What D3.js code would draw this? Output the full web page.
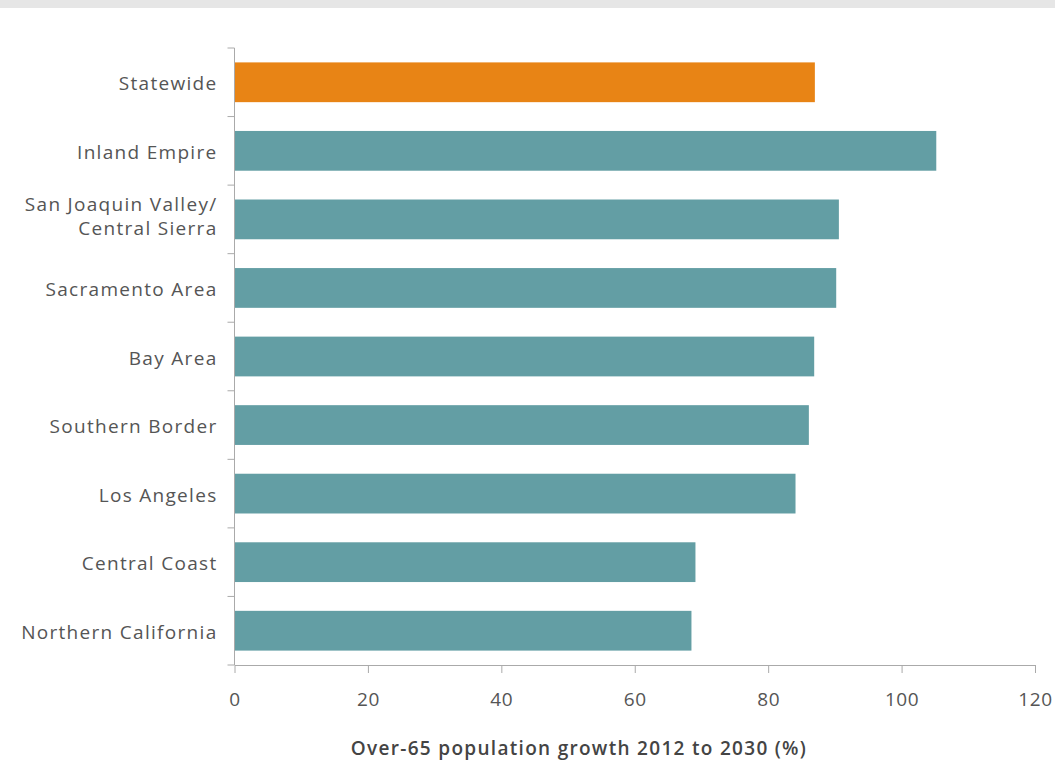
<!DOCTYPE html>
<html>
<head>
<meta charset="utf-8">
<script src="https://cdn.jsdelivr.net/npm/d3@7"></script>
<style>
  body { margin: 0; background: #fff; }
  svg text { font-family: "Open Sans", Lato, sans-serif; }
</style>
</head>
<body>
<svg id="chart" width="1055" height="762"></svg>
<script>
// data
var regions = ["Statewide", "Inland Empire", "San Joaquin Valley/\nCentral Sierra", "Sacramento Area",
  "Bay Area", "Southern Border", "Los Angeles", "Central Coast", "Northern California"];
var growth = [87.0, 105.2, 90.6, 90.2, 86.9, 86.1, 84.1, 69.1, 68.5];
var xTicks = [0, 20, 40, 60, 80, 100, 120];
var axisTitle = "Over-65 population growth 2012 to 2030 (%)";

var svg = d3.select("#chart"),
    width = +svg.attr("width"), height = +svg.attr("height");

// grey band at the top
svg.append("rect").attr("x", 0).attr("y", 0).attr("width", width).attr("height", 8).attr("fill", "#e6e6e6");

var x = d3.scaleLinear().domain([0, 120]).range([234.5, 1035]);
var y = d3.scaleBand().domain(regions).range([48, 665]).paddingInner(0.42).paddingOuter(0.21);

var rows = regions.map(function (r, i) { return { name: r, value: growth[i] }; });

svg.selectAll("rect.bar").data(rows).enter().append("rect")
  .attr("class", "bar")
  .attr("x", x(0))
  .attr("y", function (d) { return y(d.name); })
  .attr("width", function (d) { return x(d.value) - x(0); })
  .attr("height", y.bandwidth())
  .attr("fill", function (d, i) { return i === 0 ? "#e88415" : "#639ea4"; });

// y axis: band boundary ticks
var yAxis = svg.append("g").attr("transform", "translate(" + x(0) + ",0)");
yAxis.append("line").attr("x1", 0).attr("x2", 0).attr("y1", 48).attr("y2", 665).attr("stroke", "#aaa");
var bounds = d3.range(regions.length + 1).map(function (i) { return 48 + i * (617 / regions.length); });
yAxis.selectAll("line.tk").data(bounds).enter().append("line")
  .attr("class", "tk").attr("x1", -7).attr("x2", 0)
  .attr("y1", function (d) { return d; }).attr("y2", function (d) { return d; })
  .attr("stroke", "#aaa");

var labels = yAxis.selectAll("text.lab").data(rows).enter().append("text")
  .attr("class", "lab")
  .attr("text-anchor", "end")
  .attr("fill", "#555")
  .style("font-size", "19px")
  .style("letter-spacing", "1.3px");
labels.each(function (d) {
  var lines = d.name.split("\n"), t = d3.select(this);
  var cy = y(d.name) + y.bandwidth() / 2;
  lines.forEach(function (l, j) {
    var off = lines.length > 1 ? 4 + (j - 0.5) * 24 : 8;
    t.append("tspan").attr("x", -17)
      .attr("y", cy + off)
      .text(l);
  });
});

// x axis
var xAxis = svg.append("g").attr("transform", "translate(0,665)")
  .call(d3.axisBottom(x).tickValues(xTicks).tickSize(8).tickPadding(20).tickSizeOuter(0));
xAxis.select(".domain").attr("stroke", "#aaa");
xAxis.selectAll(".tick line").attr("stroke", "#aaa");
xAxis.selectAll(".tick text").attr("fill", "#555").style("font-size", "19px")
  .style("letter-spacing", "0.6px")
  .style("font-family", "'Open Sans', Lato, sans-serif");

svg.append("text")
  .attr("x", 579)
  .attr("y", 755)
  .attr("text-anchor", "middle")
  .attr("fill", "#444")
  .style("font-size", "19px")
  .style("font-weight", "600")
  .style("letter-spacing", "1.3px")
  .text(axisTitle);
</script>
</body>
</html>
